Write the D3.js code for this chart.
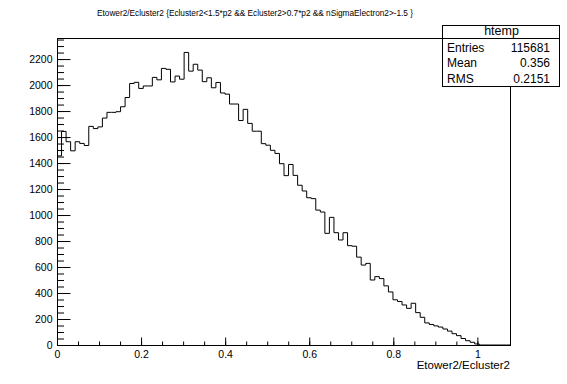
<!DOCTYPE html>
<html>
<head>
<meta charset="utf-8">
<script src="https://cdn.jsdelivr.net/npm/d3@7"></script>
<style>
  html, body { margin: 0; padding: 0; background: #fff; }
  svg { display: block; font-family: "Liberation Sans", Arial, Helvetica, sans-serif; }
</style>
</head>
<body>
<svg id="chart" width="567" height="384"></svg>
<script>
// ---- data ----
const title = "Etower2/Ecluster2 {Ecluster2<1.5*p2 && Ecluster2>0.7*p2 && nSigmaElectron2>-1.5 }";
const xTitle = "Etower2/Ecluster2";
const binLow = 0;
const binHigh = 1.08;
const binCounts = [
  1455, 1643, 1564, 1494, 1564, 1551, 1535, 1682, 1665, 1678,
  1746, 1790, 1790, 1795, 1833, 1904, 2012, 2021, 1974, 1993,
  1993, 2059, 2040, 2128, 2121, 2024, 2069, 2045, 2251, 2107,
  2160, 2115, 2026, 2056, 1979, 2020, 1939, 1930, 1854, 1854,
  1727, 1813, 1705, 1645, 1645, 1549, 1537, 1498, 1474, 1395,
  1303, 1389, 1305, 1229, 1185, 1133, 1126, 1038, 1023, 859,
  982, 864, 808, 864, 764, 760, 676, 615, 628, 500,
  526, 511, 455, 408, 348, 335, 308, 282, 321, 249,
  213, 170, 158, 147, 138, 123, 107, 87, 72, 50,
  33, 21, 8, 0, 0, 0, 0, 0, 0, 0
];
const yMax = 2362;
const xTickLabels = [0, 0.2, 0.4, 0.6, 0.8, 1];
const yTickLabels = [0, 200, 400, 600, 800, 1000, 1200, 1400, 1600, 1800, 2000, 2200];
const statsName = "htemp";
const statsRows = [["Entries", "115681"], ["Mean", "0.356"], ["RMS", "0.2151"]];

// ---- layout ----
const svg = d3.select("#chart");
const L = 57, R = 511, T = 38, B = 345;

const x = d3.scaleLinear().domain([binLow, binHigh]).range([L, R]);
const y = d3.scaleLinear().domain([0, yMax]).range([B, T]);

svg.append("rect").attr("width", 567).attr("height", 384).attr("fill", "#fff");

// title
svg.append("text")
  .attr("x", 97).attr("y", 16)
  .attr("font-size", 8.3)
  .attr("textLength", 316).attr("lengthAdjust", "spacing")
  .text(title);

// frame
svg.append("rect")
  .attr("x", L + 0.5).attr("y", T + 0.5)
  .attr("width", R - L - 1).attr("height", B - T)
  .attr("fill", "none").attr("stroke", "#000").attr("stroke-width", 1);

// histogram step path
const nb = binCounts.length;
const bw = (binHigh - binLow) / nb;
const pts = [];
binCounts.forEach((v, i) => {
  pts.push([x(binLow + i * bw), y(v)]);
  pts.push([x(binLow + (i + 1) * bw), y(v)]);
});
svg.append("path")
  .attr("d", d3.line()(pts))
  .attr("fill", "none").attr("stroke", "#000").attr("stroke-width", 1);

// y axis (ticks inward)
const yMinor = d3.range(0, yMax, 50);
svg.append("g").attr("transform", `translate(${L + 0.5},0)`)
  .call(d3.axisLeft(y).tickValues(yMinor).tickSize(-6.5).tickSizeOuter(0).tickFormat(""))
  .call(g => g.select(".domain").remove());
const yAx = svg.append("g").attr("transform", `translate(${L + 0.5},0)`)
  .call(d3.axisLeft(y).tickValues(yTickLabels).tickSize(-13).tickSizeOuter(0).tickPadding(5).tickFormat(d3.format("d")));
yAx.select(".domain").remove();
yAx.selectAll("text").attr("font-size", 10.5).attr("fill", "#000").attr("font-family", null);

// x axis (ticks inward)
const xMinor = d3.range(0, 21).map(i => i * 0.05).filter(v => v <= binHigh);
svg.append("g").attr("transform", `translate(0,${B + 0.5})`)
  .call(d3.axisBottom(x).tickValues(xMinor).tickSize(-4).tickSizeOuter(0).tickFormat(""))
  .call(g => g.select(".domain").remove());
const xAx = svg.append("g").attr("transform", `translate(0,${B + 0.5})`)
  .call(d3.axisBottom(x).tickValues(xTickLabels).tickSize(-8).tickSizeOuter(0).tickPadding(5).tickFormat(d3.format("")));
xAx.select(".domain").remove();
xAx.selectAll("text").attr("font-size", 10.5).attr("fill", "#000").attr("font-family", null);
svg.selectAll(".tick line").attr("stroke", "#000");

// x axis title
svg.append("text")
  .attr("x", 510).attr("y", 369)
  .attr("text-anchor", "end")
  .attr("font-size", 11.5)
  .text(xTitle);

// stats box
const bx0 = 442, bx1 = 559, by0 = 25, byH = 38, by1 = 86;
svg.append("rect")
  .attr("x", bx0 + 0.5).attr("y", by0 + 0.5)
  .attr("width", bx1 - bx0).attr("height", by1 - by0)
  .attr("fill", "#fff").attr("stroke", "#000");
svg.append("line")
  .attr("x1", bx0).attr("x2", bx1 + 1)
  .attr("y1", byH + 0.5).attr("y2", byH + 0.5)
  .attr("stroke", "#000");
svg.append("text")
  .attr("x", (bx0 + bx1) / 2 + 1).attr("y", 34.5)
  .attr("text-anchor", "middle").attr("font-size", 12.5)
  .text(statsName);
statsRows.forEach((r, i) => {
  const by = 52 + i * 15.4;
  svg.append("text").attr("x", 447).attr("y", by).attr("font-size", 12).text(r[0]);
  svg.append("text").attr("x", 550).attr("y", by).attr("text-anchor", "end").attr("font-size", 12).text(r[1]);
});
</script>
</body>
</html>
